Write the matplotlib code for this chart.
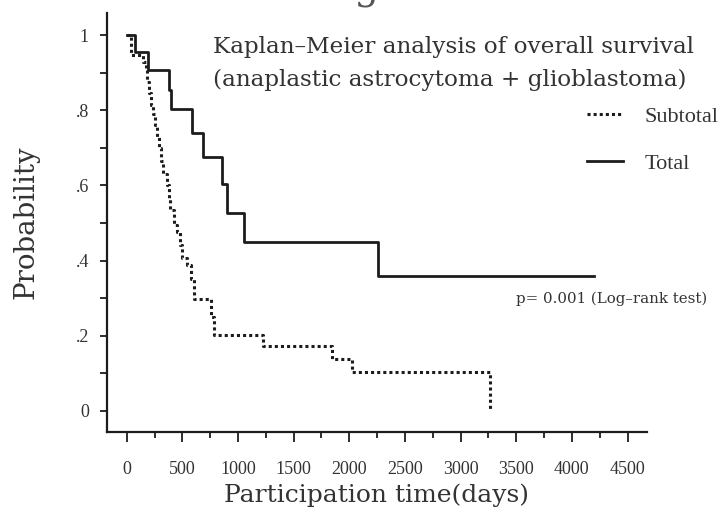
import matplotlib
matplotlib.use("Agg")
import matplotlib.pyplot as plt
import numpy as np

# ---- data ----
total_times = [0, 75, 194, 380, 398, 584, 689, 859, 905, 1057, 2256]
total_surv = [1.0, 0.954, 0.907, 0.854, 0.803, 0.740, 0.676, 0.603, 0.527, 0.449, 0.360]
total_end = 4195

sub_times = [0, 40, 150, 170, 185, 200, 215, 235, 255, 272, 290, 310, 330, 362, 378,
             390, 425, 455, 480, 500, 542, 575, 605, 758, 785, 1225, 1846, 2025, 3260]
sub_surv = [1.0, 0.947, 0.928, 0.907, 0.875, 0.845, 0.814, 0.790, 0.760, 0.730, 0.700,
            0.665, 0.630, 0.600, 0.565, 0.535, 0.495, 0.476, 0.441, 0.407, 0.388, 0.350,
            0.298, 0.250, 0.202, 0.174, 0.138, 0.103, 0.0]
sub_end = 3260

x_ticks = [0, 500, 1000, 1500, 2000, 2500, 3000, 3500, 4000, 4500]
y_ticks = [0, 0.2, 0.4, 0.6, 0.8, 1.0]
y_ticklabels = ["0", ".2", ".4", ".6", ".8", "1"]

W, H = 723, 516
fig = plt.figure(figsize=(W / 100, H / 100), dpi=100)
ax = fig.add_axes([107 / W, 1 - 432 / H, (647 - 107) / W, (432 - 13) / H])

line_col = "#1c1c1c"
text_col = "#333333"

ax.step(sub_times + [sub_end], sub_surv + [sub_surv[-1]], where="post",
        color=line_col, lw=2.2, linestyle=(0, (1, 1)), label="Subtotal")
ax.step(total_times + [total_end], total_surv + [total_surv[-1]], where="post",
        color=line_col, lw=2.0, label="Total")

ax.set_xlim(-177, 4675)
ax.set_ylim(-0.056, 1.059)
for s in ["top", "right"]:
    ax.spines[s].set_visible(False)
for s in ["left", "bottom"]:
    ax.spines[s].set_linewidth(1.6)
    ax.spines[s].set_color(line_col)

ax.set_xticks(x_ticks)
ax.set_xticks(np.arange(250, 4500, 500), minor=True)
ax.set_yticks(y_ticks)
ax.set_yticklabels(y_ticklabels)
ax.set_yticks(np.arange(0.1, 1.0, 0.2), minor=True)
ax.tick_params(axis="x", which="major", length=7, width=1.3, pad=14, colors=line_col,
               labelcolor=text_col)
ax.tick_params(axis="x", which="minor", length=4, width=1.3, colors=line_col)
ax.tick_params(axis="y", which="both", length=5, width=1.3, pad=8, colors=line_col,
               labelcolor=text_col)
for lab in ax.get_xticklabels() + ax.get_yticklabels():
    lab.set_family("Liberation Serif")
    lab.set_fontsize(13)

ax.set_xlabel("Participation time(days)", family="DejaVu Serif", fontsize=18,
              color=text_col, labelpad=4)
ax.set_ylabel("Probability", family="DejaVu Serif", fontsize=20, color=text_col,
              labelpad=26)

fig.text(213 / W, 1 - 47 / H, "Kaplan\u2013Meier analysis of overall survival",
         family="DejaVu Serif", fontsize=16.7, color=text_col, va="center", ha="left")
fig.text(213 / W, 1 - 80 / H, "(anaplastic astrocytoma + glioblastoma)",
         family="DejaVu Serif", fontsize=16.7, color=text_col, va="center", ha="left")
fig.text(516 / W, 1 - 299 / H, "p= 0.001 (Log\u2013rank test)",
         family="DejaVu Serif", fontsize=10.8, color=text_col, va="center", ha="left")
fig.text(372 / W, 1.0, "Fig. 2", family="DejaVu Serif", fontsize=28,
         color="#555555", va="baseline", ha="center")

leg = ax.legend(loc="upper left", bbox_to_anchor=(587 / W, 1 - 106 / H),
                bbox_transform=fig.transFigure, frameon=False, borderpad=0,
                borderaxespad=0, handlelength=1.6, handletextpad=1.0,
                labelspacing=1.2, prop={"family": "Liberation Serif", "size": 16})
for t in leg.get_texts():
    t.set_color(text_col)

fig.savefig("out.png", dpi=100)
